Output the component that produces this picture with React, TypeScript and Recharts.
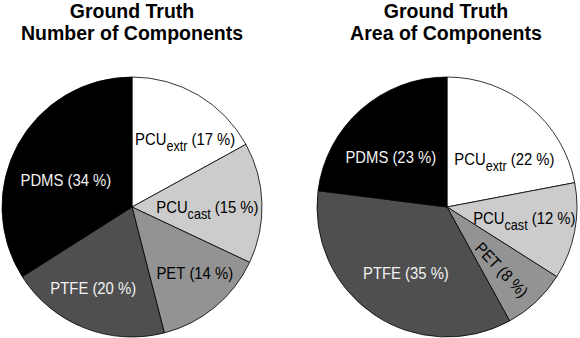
import React from "react";
import { PieChart, Pie, Cell } from "recharts";

const categories = ["PCU_extr", "PCU_cast", "PET", "PTFE", "PDMS"];
const numberShare = [17, 15, 14, 20, 34];
const areaShare = [22, 12, 8, 35, 23];
const titlesLeft = ["Ground Truth", "Number of Components"];
const titlesRight = ["Ground Truth", "Area of Components"];

const sliceColors = ["#ffffff", "#cccccc", "#939393", "#4f4f4f", "#000000"];
const textColors = ["#000000", "#000000", "#000000", "#f2f2f2", "#f2f2f2"];

// label placement: radius fraction and angle nudge (deg) relative to slice mid-angle
const leftPlacement = [
  { r: 0.67, da: -7, rot: false },
  { r: 0.58, da: -1, rot: false },
  { r: 0.7, da: 4, rot: false },
  { r: 0.69, da: -4, rot: false },
  { r: 0.55, da: 6.5, rot: false },
];
const rightPlacement = [
  { r: 0.58, da: -10, rot: false },
  { r: 0.6, da: 3.4, rot: false },
  { r: 0.64, da: -2, rot: true },
  { r: 0.6, da: 2.4, rot: false },
  { r: 0.58, da: 6.8, rot: false },
];

const FONT = "'Liberation Sans', Arial, Helvetica, sans-serif";
const RAD = Math.PI / 180;

const makeData = (vals: number[]) =>
  categories.map((c, i) => ({ name: c, value: vals[i] }));

const makeLabel = (placement: { r: number; da: number; rot: boolean }[]) => (props: any) => {
  const { cx, cy, midAngle, outerRadius, index, value, name } = props;
  const p = placement[index];
  const ang = (midAngle + p.da) * RAD;
  const x = cx + outerRadius * p.r * Math.cos(ang);
  const y = cy - outerRadius * p.r * Math.sin(ang);
  const [main, sub] = String(name).split("_");
  const fill = textColors[index];
  const rot = p.rot ? ` rotate(${-midAngle})` : "";
  const base = sub ? 7 : 6;
  return (
    <g transform={`translate(${x} ${y})${rot} scale(0.9 1)`}>
      <text x={0} y={base} textAnchor="middle" fill={fill} fontFamily={FONT} fontSize={16.5}>
        {main}
        {sub ? (
          <>
            <tspan dy={6} fontSize={14}>{sub}</tspan>
            <tspan dy={-6}>{` (${value} %)`}</tspan>
          </>
        ) : (
          <tspan>{` (${value} %)`}</tspan>
        )}
      </text>
    </g>
  );
};

const Title = ({ lines, cx }: { lines: string[]; cx: number }) => (
  <div
    style={{
      position: "absolute",
      left: cx - 150,
      top: 0,
      width: 300,
      textAlign: "center",
      fontFamily: FONT,
      fontWeight: "bold",
      fontSize: 19.5,
      lineHeight: "22px",
      color: "#000",
    }}
  >
    {lines.map((l, i) => (
      <div key={i}>{l}</div>
    ))}
  </div>
);

export default function App() {
  return (
    <div style={{ position: "fixed", left: 0, top: 0, width: 580, height: 338, background: "#fff", overflow: "hidden" }}>
      <PieChart width={580} height={338} margin={{ top: 0, right: 0, bottom: 0, left: 0 }}>
        <Pie
          data={makeData(numberShare)}
          dataKey="value"
          nameKey="name"
          cx={132}
          cy={207}
          outerRadius={130}
          startAngle={90}
          endAngle={-270}
          stroke="#000"
          strokeWidth={0.8}
          label={makeLabel(leftPlacement)}
          labelLine={false}
          isAnimationActive={false}
        >
          {categories.map((c, i) => (
            <Cell key={c} fill={sliceColors[i]} />
          ))}
        </Pie>
        <Pie
          data={makeData(areaShare)}
          dataKey="value"
          nameKey="name"
          cx={447}
          cy={207}
          outerRadius={130}
          startAngle={90}
          endAngle={-270}
          stroke="#000"
          strokeWidth={0.8}
          label={makeLabel(rightPlacement)}
          labelLine={false}
          isAnimationActive={false}
        >
          {categories.map((c, i) => (
            <Cell key={c} fill={sliceColors[i]} />
          ))}
        </Pie>
      </PieChart>
      <Title lines={titlesLeft} cx={132} />
      <Title lines={titlesRight} cx={446} />
    </div>
  );
}
